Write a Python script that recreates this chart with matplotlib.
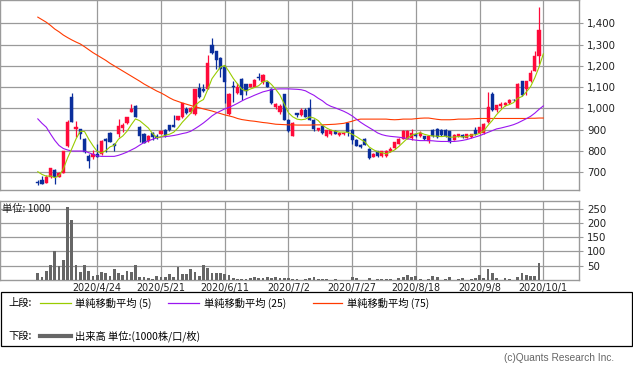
import numpy as np
import pandas as pd
import matplotlib
matplotlib.use("Agg")
import matplotlib.pyplot as plt
from matplotlib.lines import Line2D
from matplotlib.patches import Rectangle

# ---------------- data ----------------
opens = [655,664,651,677,711,680,698,824,1052,902,
         902,855,778,770,785,786,856,886,833,880,
         907,930,985,1011,915,881,845,885,873,882,
         900,920,922,948,958,998,982,975,1095,1092,
         1092,1296,1268,1236,1193,975,1106,1074,1139,1113,
         1103,1103,1150,1124,1124,1092,1006,983,1066,947,
         873,978,967,991,1000,947,897,917,870,878,
         895,876,878,931,900,853,830,858,810,773,
         799,776,776,800,813,835,857,858,861,880,
         872,869,846,900,905,897,900,892,853,869,
         877,862,864,897,884,884,936,1066,991,1010,
         1014,1025,1041,1003,1128,1092,1128,1178,1248]
highs = [663,683,687,722,714,702,800,946,1074,941,
         905,860,786,805,833,852,860,891,836,949,
         930,960,1019,1016,919,884,876,888,880,898,
         902,922,967,965,1028,1006,1008,1092,1120,1116,
         1253,1332,1270,1240,1202,1072,1128,1118,1142,1115,
         1115,1138,1166,1160,1130,1095,1024,1022,1068,950,
         935,980,1000,1000,1045,950,910,920,899,899,
         898,888,890,934,902,856,835,860,812,790,
         802,802,805,820,843,860,897,898,903,885,
         892,872,870,903,910,905,903,894,878,880,
         882,880,880,913,915,930,1077,1077,1016,1030,
         1030,1045,1045,1120,1131,1131,1180,1269,1478]
lows = [640,645,648,675,645,678,696,817,936,867,
        855,789,719,763,770,783,797,841,800,867,
        891,927,982,958,842,836,843,850,855,878,
        866,895,912,946,955,972,978,970,1050,1077,
        1090,1257,1186,1150,1025,970,1030,1069,1038,1061,
        1100,1100,1134,1113,1100,1020,998,975,945,890,
        870,960,964,960,945,894,895,882,866,875,
        878,872,874,870,835,822,816,828,762,770,
        772,772,770,795,810,832,855,855,850,865,
        868,853,838,866,862,870,866,840,850,866,
        862,860,860,875,880,880,934,988,985,1000,
        1010,1022,1035,1000,1058,1064,1125,1176,1210]
closes = [650,645,680,719,680,698,800,938,938,911,
          878,794,755,786,774,847,847,844,824,917,
          922,958,997,961,873,839,873,867,862,895,
          874,897,915,963,1025,980,1004,1092,1053,1081,
          1213,1261,1230,1185,1123,1070,1100,1100,1061,1081,
          1113,1136,1144,1155,1103,1025,1022,1011,947,894,
          931,967,995,962,947,905,908,884,897,897,
          881,885,887,888,853,826,819,830,768,788,
          776,800,802,808,841,857,895,896,884,870,
          887,857,869,870,866,877,869,842,875,878,
          868,878,878,878,913,928,1009,991,1014,1020,
          1025,1041,1038,1116,1061,1131,1166,1248,1369]
volume = [26,12,33,53,102,49,70,257,210,53,
          29,53,33,15,17,28,26,14,39,26,
          17,32,29,53,12,12,6,3,14,12,
          12,21,12,47,21,20,39,29,15,53,
          43,26,26,26,21,17,6,2,2,3,
          6,9,8,8,9,8,9,6,8,
          8,4,4,1,4,8,12,5,2,5,
          1,4,1,1,1,9,6,1,1,7,
          1,4,4,4,4,1,7,12,17,12,
          14,4,1,5,14,9,1,5,9,1,
          5,7,1,5,8,17,6,39,26,8,
          1,6,4,1,9,25,17,14,14,58]
# 2020/10/1: trading halted, moving averages carry the last close
close_oct1 = 1369
ma5_head = [703, 690, 682, 683]
ma25 = [951,930,912,880,850,826,812,805,800,800,
        800,800,792,785,777,775,775,775,775,780,
        787,795,805,815,828,840,848,855,862,866,
        868,870,873,877,882,886,893,905,918,932,
        948,965,978,988,998,1005,1014,1024,1035,1045,
        1053,1062,1070,1078,1083,1088,1091,1092,1092,1092,
        1091,1090,1088,1083,1072,1062,1048,1036,1020,1010,
        1003,995,987,977,965,950,935,922,910,898,
        885,877,872,869,867,865,862,858,854,851,
        849,849,849,848,846,845,845,845,845,847,
        850,854,860,866,872,880,888,896,904,908,
        913,918,924,932,942,952,963,978,996,1012]
ma75 = [1429,1417,1405,1390,1373,1360,1345,1333,1322,1312,
        1303,1290,1276,1262,1250,1238,1226,1212,1200,1188,
        1176,1164,1152,1140,1128,1115,1104,1093,1082,1073,
        1062,1050,1040,1033,1026,1020,1014,1008,1003,998,
        993,988,982,976,970,965,960,953,948,945,
        942,940,937,934,932,929,926,925,924,923,
        923,922,922,922,922,923,923,923,924,925,
        926,928,930,935,940,947,950,950,950,950,
        950,950,950,948,947,948,950,950,950,952,
        954,955,955,952,949,947,947,947,948,950,
        950,950,951,952,953,953,953,953,953,953,
        953,953,953,953,953,953,954,954,955,955]
tick_pos = [14, 29, 44, 59, 74, 89, 104, 119]
tick_labels = ["2020/4/24", "2020/5/21", "2020/6/11", "2020/7/2",
               "2020/7/27", "2020/8/18", "2020/9/8", "2020/10/1"]
price_ticks = [700, 800, 900, 1000, 1100, 1200, 1300, 1400]
vol_ticks = [50, 100, 150, 200, 250]

# ---------------- styling ----------------
W, H = 633, 371
RED = "#ff0a3a"
BLUE = "#0a2e9c"
C5 = "#99cc00"
C25 = "#9a16f0"
C75 = "#ff3a00"
GRID = "#9a9a9a"
JP = ["Noto Sans CJK JP", "DejaVu Sans"]

plt.rcParams['font.family'] = ['DejaVu Sans', 'Noto Sans CJK JP']

fig = plt.figure(figsize=(W / 100, H / 100), dpi=100)
fig.patch.set_facecolor("white")

def fx(x):
    return x / W

def fy(y):
    return 1 - y / H

ax = fig.add_axes([0, fy(190), fx(579), 190 / H])
axv = fig.add_axes([0, fy(280), fx(579), 79 / H])

n = len(closes)
idx = np.arange(n)
o = np.array(opens, float)
c = np.array(closes, float)
h = np.array(highs, float)
l = np.array(lows, float)
up = c >= o
colors = np.where(up, RED, BLUE)

# moving averages
close_line = pd.Series(list(closes) + [close_oct1], dtype=float)
ma5 = close_line.rolling(5).mean().to_numpy()
ma5[:4] = ma5_head
xl = np.arange(len(close_line))

XL = (-8.9, 127.4)
for a in (ax, axv):
    a.set_xlim(*XL)
    for s in a.spines.values():
        s.set_color(GRID)
        s.set_linewidth(1.0)
    a.set_xticks(tick_pos)
    a.grid(True, color=GRID, linewidth=0.9)
    a.set_axisbelow(True)
    a.yaxis.tick_right()
    a.tick_params(axis='y', length=3, color=GRID, pad=3, labelsize=7.4,
                  labelcolor="#222222")

# candles
ax.vlines(idx, l, h, colors=colors, linewidth=0.9, zorder=3)
body_b = np.minimum(o, c)
body_h = np.maximum(np.abs(c - o), 3)
ax.bar(idx, body_h, bottom=body_b, width=0.74, color=colors,
       edgecolor=colors, linewidth=0.3, zorder=4)

ax.plot(xl, ma75, color=C75, linewidth=0.8, zorder=5)
ax.plot(xl, ma25, color=C25, linewidth=0.8, zorder=5)
ax.plot(xl, ma5, color=C5, linewidth=0.8, zorder=5)

ax.set_ylim(617, 1509.5)
ax.set_yticks(price_ticks)
ax.set_yticklabels([f"{v:,}" for v in price_ticks])
ax.tick_params(axis='x', length=0, labelbottom=False)

# volume
axv.bar(idx, volume, width=0.66, color="#666666", zorder=3)
axv.set_ylim(0, 276.5)
axv.set_yticks(vol_ticks)
axv.set_yticklabels([str(v) for v in vol_ticks])
axv.set_xticklabels(tick_labels)
axv.tick_params(axis='x', length=0, pad=2, labelsize=6.9, labelcolor="#222222")
axv.text(0.004, 1 - 8 / 79, "単位: 1000", transform=axv.transAxes,
         fontsize=7.4, family=JP, va='center', ha='left', color="#222222",
         zorder=6)

# legend box
fig.add_artist(Rectangle((fx(0.5), fy(346)), fx(631.5), 54 / H, fill=False,
                         edgecolor="black", linewidth=0.9,
                         transform=fig.transFigure))

def leg_line(x1, x2, y, color, lw):
    fig.add_artist(Line2D([fx(x1), fx(x2)], [fy(y), fy(y)], color=color,
                          linewidth=lw, transform=fig.transFigure))

ry1, ry2 = 303, 336
fig.text(fx(8), fy(ry1), "上段:", family=JP, fontsize=7.4, va='center')
leg_line(40, 71, ry1, C5, 0.9)
fig.text(fx(75), fy(ry1), "単純移動平均 (5)", family=JP, fontsize=7.4, va='center')
leg_line(168, 199, ry1, C25, 0.9)
fig.text(fx(204), fy(ry1), "単純移動平均 (25)", family=JP, fontsize=7.4, va='center')
leg_line(313, 342, ry1, C75, 0.9)
fig.text(fx(347), fy(ry1), "単純移動平均 (75)", family=JP, fontsize=7.4, va='center')

fig.text(fx(8), fy(ry2), "下段:", family=JP, fontsize=7.4, va='center')
leg_line(40, 71, ry2, "#666666", 3.0)
fig.text(fx(75), fy(ry2), "出来高 単位:(1000株/口/枚)", family=JP, fontsize=7.4,
         va='center')

fig.text(fx(614), fy(358), "(c)Quants Research Inc.", family="Liberation Sans",
         fontsize=7.3, color="#666666", ha='right', va='center')

fig.savefig("out.png", dpi=100)
